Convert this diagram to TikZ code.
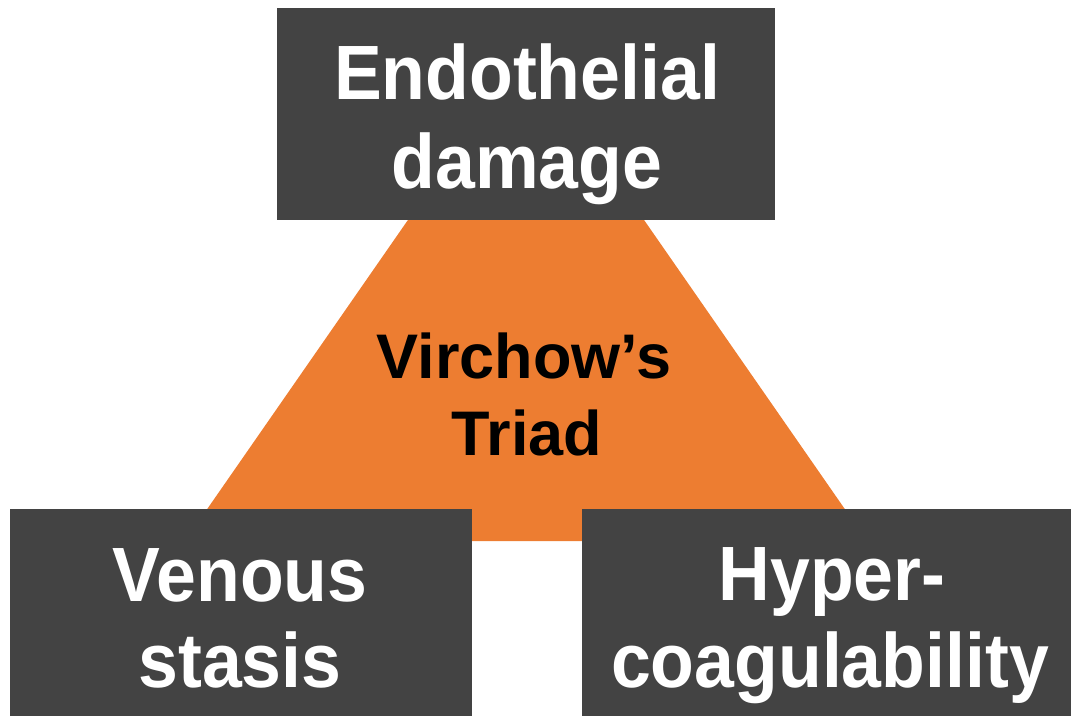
\documentclass[tikz,border=0pt]{standalone}
\usepackage{fontspec}
\setmainfont{Liberation Sans}
\newfontfamily\boxfont[FakeStretch=0.93]{Liberation Sans}
\definecolor{boxgray}{HTML}{434343}
\definecolor{triorange}{HTML}{ED7D31}
\tikzset{
  darkbox/.style={fill=boxgray, draw=none},
  boxtext/.style={anchor=base, text=white, inner sep=0pt, font=\boxfont\bfseries\fontsize{77}{87}\selectfont},
  tritext/.style={anchor=base, text=black, inner sep=0pt, font=\bfseries\fontsize{63}{77}\selectfont}
}
\begin{document}
\begin{tikzpicture}[x=1pt,y=-1pt]
\useasboundingbox (0,0) rectangle (1071,716);
% triangle
\coordinate (apex) at (526,50);
\coordinate (bl) at (185,541);
\coordinate (br) at (867,541);
\fill[triorange] (apex) -- (bl) -- (br) -- cycle;
% boxes
\fill[darkbox] (277,8) rectangle (775,220);
\fill[darkbox] (10,509) rectangle (472,716);
\fill[darkbox] (582,509) rectangle (1071,716);
% texts
\node[boxtext] (e1) at (527,99) {Endothelial};
\node[boxtext] (e2) at (527,188) {damage};
\node[tritext] (v1) at (524,378) {Virchow’s};
\node[tritext] (v2) at (527,455) {Triad};
\node[boxtext] (s1) at (240,601) {Venous};
\node[boxtext] (s2) at (240,687) {stasis};
\node[boxtext] (h1) at (832,600) {Hyper-};
\node[boxtext] (h2) at (830,687) {coagulability};
\end{tikzpicture}
\end{document}
